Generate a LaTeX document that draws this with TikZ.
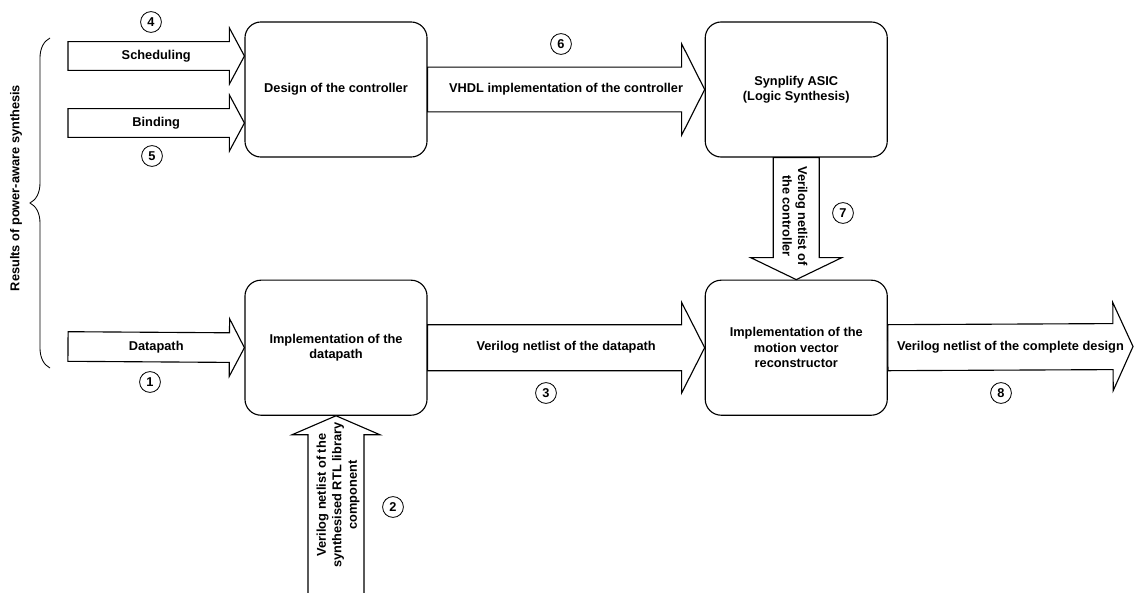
\documentclass[tikz,border=0pt]{standalone}
\usepackage{fontspec}
\setmainfont{Liberation Sans}
\usetikzlibrary{calc}
\usetikzlibrary{positioning}
\usetikzlibrary{decorations.pathreplacing}

\newcommand{\diagfont}{\fontsize{9.1}{11}\selectfont\bfseries}

\tikzstyle{stage} = [rectangle, rounded corners=0.4cm, draw=black, line width=0.8pt, align=center, minimum width=4.55cm, minimum height=3.375cm, font=\diagfont]
\tikzstyle{flow_label} = [align=center, inner sep=0pt, font=\diagfont]
\tikzstyle{step_no} = [circle, draw=black, line width=0.6pt, minimum size=0.52cm, inner sep=0pt, font=\diagfont]

% wide hollow arrow: shaft half width / head half width / head length
\tikzset{bus/.style n args={3}{draw=black, line width=0.8pt, fill=white,
    to path={
        ($(\tikztostart)!#1!90:(\tikztotarget)$)
        -- ($(\tikztotarget)!#3!(\tikztostart)!#1!-90:(\tikztostart)$)
        -- ($(\tikztotarget)!#3!(\tikztostart)!#2!-90:(\tikztostart)$)
        -- (\tikztotarget)
        -- ($(\tikztotarget)!#3!(\tikztostart)!#2!90:(\tikztostart)$)
        -- ($(\tikztotarget)!#3!(\tikztostart)!#1!90:(\tikztostart)$)
        -- ($(\tikztostart)!#1!-90:(\tikztotarget)$)
        -- cycle}}}

\begin{document}
\begin{tikzpicture}[x=0.025cm, y=-0.025cm]

    \useasboundingbox (0,0) rectangle (1135,592);

    \node (ctrl) [stage] at (336,89.5) {Design of the controller};
    \node (synth) [stage, right=6.925cm of ctrl] {Synplify ASIC\\(Logic Synthesis)};
    \node (dp) [stage, below=3.05cm of ctrl] {Implementation of the\\datapath};
    \node (mvr) [stage, below=3.05cm of synth] {Implementation of the\\motion vector\\reconstructor};

    \coordinate (sched_in) at (68,56);
    \coordinate (sched_tip) at (sched_in -| ctrl.west);
    \coordinate (bind_in) at (68,123);
    \coordinate (bind_tip) at (bind_in -| ctrl.west);
    \coordinate (dp_in) at (68,346.5);
    \coordinate (rtl_in) at (336,600);
    \coordinate (design_out) at (1133,346.5);

    \draw [bus={0.36cm}{0.7cm}{0.375cm}] (sched_in) to (sched_tip);
    \draw [bus={0.36cm}{0.7cm}{0.375cm}] (bind_in) to (bind_tip);
    \draw [bus={0.37cm}{0.72cm}{0.375cm}] (dp_in) to (dp.west);
    \draw [bus={0.56cm}{1.14cm}{0.575cm}] (ctrl.east) to (synth.west);
    \draw [bus={0.575cm}{1.13cm}{0.575cm}] (dp.east) to (mvr.west);
    \draw [bus={0.575cm}{1.14cm}{0.55cm}] (synth.south) to (mvr.north);
    \draw [bus={0.7cm}{1.1cm}{0.475cm}] (rtl_in) to (dp.south);
    \draw [bus={0.575cm}{1.1cm}{0.5cm}] (mvr.east) to (design_out);

    \node (sched_lbl) [flow_label] at ($(sched_in)!0.5!(sched_tip)$) {Scheduling};
    \node (bind_lbl) [flow_label] at ($(bind_in)!0.5!(bind_tip)$) {Binding};
    \node (dp_lbl) [flow_label] at ($(dp_in)!0.5!(dp.west)$) {Datapath};
    \node (vhdl_lbl) [flow_label] at ($(ctrl.east)!0.5!(synth.west)$) {VHDL implementation of the controller};
    \node (dpnet_lbl) [flow_label] at ($(dp.east)!0.5!(mvr.west)$) {Verilog netlist of the datapath};
    \node (design_lbl) [flow_label] at ($(mvr.east)!0.5!(design_out)$) {Verilog netlist of the complete design};
    \node (ctrlnet_lbl) [flow_label, rotate=-90] at (795,216) {Verilog netlist of\\the controller};
    \node (rtl_lbl) [flow_label, rotate=90] at (338,495) {Verilog netlist of the\\synthesised RTL library\\component};

    % step numbers
    \node (n1) [step_no] at (150,382) {1};
    \node (n2) [step_no] at (393,507) {2};
    \node (n3) [step_no] at (546,393) {3};
    \node (n4) [step_no] at (151,22) {4};
    \node (n5) [step_no] at (152,156) {5};
    \node (n6) [step_no] at (561,44) {6};
    \node (n7) [step_no] at (843,213) {7};
    \node (n8) [step_no] at (1001,393) {8};

    % brace over the synthesis results
    \coordinate (brace_lo) at (50,368);
    \coordinate (brace_hi) at (50,38);
    \draw [line width=0.6pt, decorate, decoration={brace, amplitude=0.5cm}] (brace_lo) -- (brace_hi);
    \node (results) [flow_label, rotate=90] at (16,188) {Results of power-aware synthesis};

\end{tikzpicture}
\end{document}
